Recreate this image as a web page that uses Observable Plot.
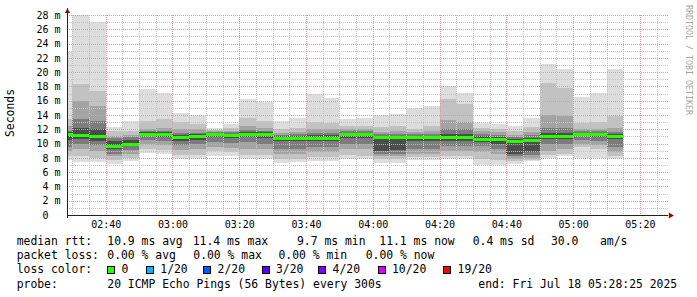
<!DOCTYPE html>
<html>
<head>
<meta charset="utf-8">
<script src="https://cdn.jsdelivr.net/npm/d3@7"></script>
<script src="https://cdn.jsdelivr.net/npm/@observablehq/plot@0.6"></script>
<style>
  html, body { margin: 0; padding: 0; background: #fff; }
  #wrap { position: relative; width: 697px; height: 297px; overflow: hidden; background: #fff; }
  #wrap svg { position: absolute; left: 0; top: 0; }
  .t { position: absolute; font-family: "DejaVu Sans Mono", monospace; font-size: 11.4px; line-height: 14px; color: #000; white-space: pre; }
  .box { position: absolute; width: 6px; height: 6px; border: 1px solid #000; }
</style>
</head>
<body>
<div id="wrap"></div>
<script>
// 5-minute steps (start time of each step)
const slots = ["02:25","02:30","02:35","02:40","02:45","02:50","02:55","03:00","03:05","03:10","03:15","03:20","03:25","03:30","03:35","03:40","03:45","03:50","03:55","04:00","04:05","04:10","04:15","04:20","04:25","04:30","04:35","04:40","04:45","04:50","04:55","05:00","05:05","05:10"];
// smoke band upper edges (ms), outermost first
const h1 = [22.8,28.0,27.0,12.3,13.2,17.7,17.1,14.3,14.0,12.2,12.7,16.3,15.8,13.1,13.6,16.9,16.4,13.5,13.6,14.0,14.1,15.0,15.3,18.0,17.1,12.9,12.7,12.5,13.6,21.1,20.4,16.5,17.1,20.4];
const h2 = [13.4,18.4,17.4,11.7,11.8,13.2,13.4,13.0,12.8,11.9,12.2,13.6,13.2,12.0,12.2,13.0,12.9,12.5,12.4,12.3,12.4,12.0,12.4,16.2,15.6,12.2,12.1,11.8,12.3,18.5,17.8,12.9,13.0,13.8];
const h3 = [12.4,16.0,15.2,11.1,11.2,12.0,12.2,12.0,12.0,11.7,11.8,12.4,12.2,11.5,11.6,12.0,12.0,12.0,12.0,11.6,11.7,11.6,11.8,13.3,13.0,11.7,11.6,11.2,11.6,14.0,13.8,12.1,12.1,12.2];
const h4 = [11.8,13.4,13.2,10.8,10.9,11.8,11.8,11.5,11.5,11.6,11.6,11.9,11.8,11.2,11.3,11.5,11.5,11.7,11.7,11.3,11.3,11.3,11.4,12.0,12.0,11.3,11.2,10.9,11.2,12.2,12.2,11.8,11.8,11.6];
const h5 = [11.6,12.2,12.0,10.3,10.5,11.6,11.6,11.2,11.3,11.5,11.4,11.6,11.6,11.0,11.1,11.2,11.2,11.5,11.5,11.1,11.1,11.1,11.1,11.4,11.4,11.0,10.9,10.6,10.8,11.5,11.5,11.5,11.5,11.3];
// median rtt (ms)
const med = [11.3,11.2,11.0,9.7,10.0,11.4,11.3,10.9,11.0,11.3,11.2,11.4,11.3,10.8,10.8,10.8,10.8,11.3,11.3,10.9,10.9,10.9,10.9,10.9,10.9,10.7,10.6,10.3,10.5,11.1,11.1,11.3,11.3,11.1];
// smoke band lower edges (ms), innermost first
const l5 = [10.5,10.6,10.3,9.2,9.6,11.0,10.9,10.3,10.5,10.9,10.8,10.9,10.8,10.3,10.3,10.3,10.3,10.8,10.8,9.0,9.1,10.3,10.3,10.4,10.4,10.2,10.0,8.6,8.8,10.6,10.6,11.0,10.9,10.6];
const l4 = [9.5,10.0,9.8,8.6,9.1,10.5,10.4,9.8,9.9,10.2,10.1,10.2,10.0,9.2,9.3,9.5,9.5,10.0,10.0,8.6,8.6,9.3,9.3,9.6,9.6,9.6,9.3,8.2,8.4,10.0,10.0,10.5,10.3,9.5];
const l3 = [9.0,9.2,9.0,8.2,8.6,10.0,9.8,9.1,9.2,9.5,9.4,9.3,9.2,8.5,8.5,8.8,8.8,9.2,9.2,8.2,8.2,8.6,8.6,8.9,8.9,8.8,8.5,7.9,8.0,9.0,9.2,10.0,9.8,8.8];
const l2 = [8.2,8.2,8.0,7.7,8.0,9.2,9.1,8.4,8.4,8.9,8.8,8.4,8.4,7.8,7.9,8.1,8.1,8.4,8.3,7.8,7.8,8.1,8.1,8.3,8.3,7.8,7.7,7.6,7.7,8.4,8.6,9.5,9.3,8.2];
const l1 = [7.7,7.4,7.4,7.2,7.6,8.7,8.6,7.9,7.9,8.3,8.2,7.8,7.8,7.3,7.4,7.6,7.6,7.9,7.8,7.3,7.3,7.7,7.7,7.9,7.9,7.0,7.0,7.2,7.5,8.0,8.2,8.0,8.0,7.8];

const bandColors = ["#dddddd","#c2c2c2","#a3a3a3","#7c7c7c","#4c4c4c"];
const yTicks = [0,2,4,6,8,10,12,14,16,18,20,22,24,26,28];
const yMinor = [1,3,5,7,9,11,13,15,17,19,21,23,25,27];
const xLabels = ["02:40","03:00","03:20","03:40","04:00","04:20","04:40","05:00","05:20"];
const day = "2025-07-18";
const startTime = "02:28:25", endTime = "05:28:25";

const lossLabels = ["0","1/20","2/20","3/20","4/20","10/20","19/20"];
const lossColors = ["#26ff00","#00b8ff","#0059ff","#5e00ff","#7e00ff","#dd00ff","#ff0000"];

const toDate = (s) => new Date(`${day}T${s.length === 5 ? s + ":00" : s}Z`);
const start = toDate(startTime), end = toDate(endTime);
const xMajor = xLabels.map(toDate);
const xMinor = d3.utcMinute.every(5).range(start, end);

const highs = [h1,h2,h3,h4,h5];
const lows = [l1,l2,l3,l4,l5];
const rows = slots.map((s, i) => ({
  t0: toDate(s), t1: d3.utcMinute.offset(toDate(s), 5), m: med[i],
  hi: highs.map(a => a[i]), lo: lows.map(a => a[i])
}));

const bandMarks = bandColors.map((c, b) => Plot.rect(rows, {
  x1: "t0", x2: "t1", y1: d => d.lo[b], y2: d => d.hi[b],
  fill: c, clip: true, shapeRendering: "crispEdges"
}));

const chart = Plot.plot({
  width: 697, height: 232,
  marginLeft: 67, marginRight: 29, marginTop: 15, marginBottom: 17,
  style: { fontFamily: "DejaVu Sans Mono, monospace", fontSize: "10px", color: "#000", background: "transparent" },
  x: { type: "utc", domain: [start, end], ticks: xMajor, tickFormat: d3.utcFormat("%H:%M"), tickSize: 0, tickPadding: 5, label: null },
  y: { domain: [0, 28], ticks: yTicks, tickFormat: d => d === 0 ? "0\u00a0\u00a0" : `${d} m`, tickSize: 0, tickPadding: 7, label: null },
  marks: [
    ...bandMarks,
    Plot.ruleY(yMinor, { stroke: "#c4c4c4", strokeDasharray: "1,1", shapeRendering: "crispEdges" }),
    Plot.ruleX(xMinor, { stroke: "#c4c4c4", strokeDasharray: "1,1", shapeRendering: "crispEdges" }),
    Plot.ruleY(yTicks.filter(d => d > 0), { stroke: "#e09c9c", strokeDasharray: "1,1", shapeRendering: "crispEdges" }),
    Plot.ruleX(xMajor, { stroke: "#e09c9c", strokeDasharray: "1,1", shapeRendering: "crispEdges" }),
    Plot.ruleY(rows, { y: "m", x1: "t0", x2: "t1", stroke: lossColors[0], strokeWidth: 3, clip: true, shapeRendering: "crispEdges" }),
    Plot.ruleY([0], { stroke: "#222", shapeRendering: "crispEdges" }),
    Plot.ruleX([start], { y1: -0.4, y2: 29, stroke: "#222", shapeRendering: "crispEdges" }),
    Plot.dot([start], { x: d => d, y: 28, symbol: "triangle", r: 2, fill: "#8b0a0a", stroke: "none", dy: -4 }),
    Plot.dot([end], { x: d => d, y: 0, symbol: "triangle", r: 2.2, rotate: 90, fill: "#8b0a0a", stroke: "none", dx: 2 })
  ]
});
const wrap = document.getElementById("wrap");
wrap.appendChild(chart);

function addText(txt, x, top, extra) {
  const s = document.createElement("span");
  s.className = "t";
  s.textContent = txt;
  s.style.left = x + "px";
  s.style.top = top + "px";
  if (extra) Object.assign(s.style, extra);
  wrap.appendChild(s);
  return s;
}

// axis title and watermark
addText("Seconds", 10, 113, { transform: "translate(-50%,-50%) rotate(-90deg)" });
addText("RRDTOOL / TOBI OETIKER", 688.5, 60, { transform: "translate(-50%,-50%) rotate(90deg)", fontSize: "8.3px", color: "#a6a6a6", lineHeight: "10px" });

// legend
const rttLabels = ["median rtt:", "10.9 ms avg", "11.4 ms max", "9.7 ms min", "11.1 ms now", "0.4 ms sd", "30.0", "am/s"];
const rttX = [16.7, 107.3, 192.7, 297, 379.3, 472.7, 551, 600];
rttLabels.forEach((t, i) => addText(t, rttX[i], 234));
const lossStats = ["packet loss:", "0.00 % avg", "0.00 % max", "0.00 % min", "0.00 % now"];
const lossX = [16.7, 107.3, 193.3, 278.5, 365.7];
lossStats.forEach((t, i) => addText(t, lossX[i], 248.4));
addText("loss color:", 16.7, 262.4);
const boxX = [107.3, 146, 203.3, 261.7, 318.3, 377.7, 443.3];
lossLabels.forEach((t, i) => {
  const b = document.createElement("div");
  b.className = "box";
  b.style.left = boxX[i] + "px";
  b.style.top = "265.5px";
  b.style.background = lossColors[i];
  wrap.appendChild(b);
  addText(t, boxX[i] + 14.3, 262.4);
});
addText("probe:", 16.7, 277.4);
addText("20 ICMP Echo Pings (56 Bytes) every 300s", 107.3, 277.4);
addText("end: Fri Jul 18 05:28:25 2025", 478.3, 277.4);
</script>
</body>
</html>
